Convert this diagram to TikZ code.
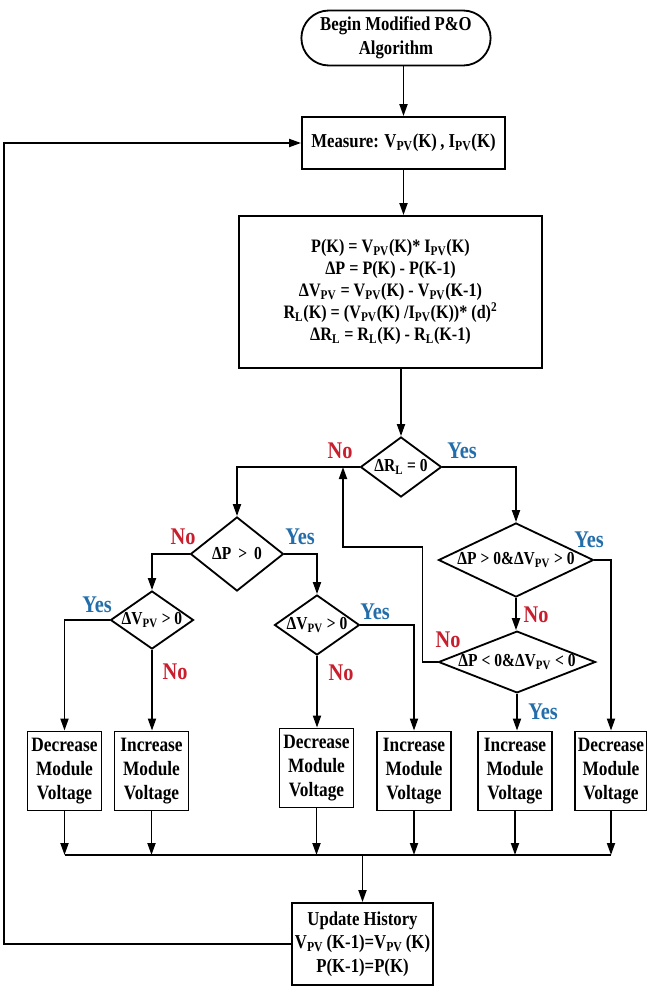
\documentclass[tikz,border=0pt]{standalone}
\usepackage{fontspec}
\setmainfont{Liberation Serif}[FakeStretch=0.85]
\usetikzlibrary{positioning,shapes.geometric,shapes.misc,arrows.meta}
\definecolor{noRed}{RGB}{200,30,45}
\definecolor{yesBlue}{RGB}{35,110,170}
\newcommand{\pvsub}{\textsubscript{PV}}
\newcommand{\lsub}{\textsubscript{L}}

\begin{document}
\begin{tikzpicture}[x=0.025cm,y=-0.025cm,
    line width=1.3pt,
    txt/.style={font=\bfseries\fontsize{14}{17}\selectfont,align=center},
    procbox/.style={txt,draw,inner sep=2pt},
    decision/.style={draw,shape=diamond,inner sep=0pt,
        font=\bfseries\fontsize{13}{15}\selectfont},
    actbox/.style={procbox,minimum width=1.85cm,minimum height=1.975cm,
        font=\bfseries\fontsize{14.5}{16.8}\selectfont},
    yeslbl/.style={font=\bfseries\fontsize{17}{19}\selectfont,text=yesBlue,inner sep=0pt},
    nolbl/.style={font=\bfseries\fontsize{17}{19}\selectfont,text=noRed,inner sep=0pt},
    arr/.style={-{Triangle[length=3mm,width=2mm]}}]
\useasboundingbox (0,0) rectangle (646,986);

% start, measure and compute
\node[txt,draw,shape=rounded rectangle,minimum width=4.8cm,minimum height=1.375cm,
    inner sep=1pt] (begin) at (396,38) {Begin Modified P\&O\\Algorithm};
\node[procbox,minimum width=5.075cm,minimum height=1.3cm] (measure) at (403.5,143)
    {Measure: V\pvsub(K)\,, I\pvsub(K)};
\node[procbox,minimum width=7.575cm,minimum height=3.8cm,
    font=\bfseries\fontsize{13.5}{15.6}\selectfont] (formula) at (390.5,292)
    {P(K) = V\pvsub(K)* I\pvsub(K)\\
     ΔP = P(K) - P(K-1)\\
     ΔV\pvsub{} = V\pvsub(K) - V\pvsub(K-1)\\
     R\lsub(K) = (V\pvsub(K) /I\pvsub(K))* (d)\textsuperscript{2}\\
     ΔR\lsub{} = R\lsub(K) - R\lsub(K-1)};

% decisions
\node[decision,aspect=1.35,minimum width=2.025cm,minimum height=1.5cm] (dRL) at (401,467) {ΔR\lsub{} = 0};
\node[decision,aspect=1.25,minimum width=2.325cm,minimum height=1.85cm] (dP) at (237,554) {ΔP \,>\, 0};
\node[decision,aspect=1.45,minimum width=2.075cm,minimum height=1.45cm] (dVL) at (152,620) {ΔV\pvsub{} > 0};
\node[decision,aspect=1.45,minimum width=2.125cm,minimum height=1.5cm] (dVM) at (317,625) {ΔV\pvsub{} > 0};
\node[decision,aspect=2.1,minimum width=3.875cm,minimum height=1.85cm] (dPV) at (516,560) {ΔP > 0\&ΔV\pvsub{} > 0};
\node[decision,aspect=2.5,minimum width=3.925cm,minimum height=1.525cm] (dNV) at (517,662) {ΔP < 0\&ΔV\pvsub{} < 0};

% actions
\node[actbox] (decA) at (64.5,771) {Decrease\\Module\\Voltage};
\node[actbox] (incA) at (151.5,771) {Increase\\Module\\Voltage};
\node[actbox] (decB) at (316.5,768) {Decrease\\Module\\Voltage};
\node[actbox] (incB) at (414,771) {Increase\\Module\\Voltage};
\node[actbox] (incC) at (515,771) {Increase\\Module\\Voltage};
\node[actbox,minimum width=1.8cm] (decC) at (611,771) {Decrease\\Module\\Voltage};
\node[procbox,minimum width=3.275cm,minimum height=2.05cm,
    font=\bfseries\fontsize{14}{16.8}\selectfont] (update) at (362.5,944)
    {Update History\\V\pvsub{}\,(K-1)=V\pvsub{}\,(K)\\P(K-1)=P(K)};

% yes / no labels
\node[nolbl] (no1) at (340,451) {No};
\node[yeslbl] (yes1) at (462,451) {Yes};
\node[nolbl] (no2) at (183,537) {No};
\node[yeslbl] (yes2) at (300,537) {Yes};
\node[yeslbl] (yes3) at (97,605) {Yes};
\node[nolbl] (no3) at (175,672) {No};
\node[yeslbl] (yes4) at (375,612) {Yes};
\node[nolbl] (no4) at (341,673) {No};
\node[yeslbl] (yes5) at (589,540) {Yes};
\node[nolbl] (no5) at (536,615) {No};
\node[nolbl] (no6) at (448,640) {No};
\node[yeslbl] (yes6) at (543,712) {Yes};

% connectors
\draw[arr] (begin.south -| measure.north) -- (measure.north);
\draw[arr] (measure.south) -- (measure.south |- formula.north);
\draw[arr] (dRL.north |- formula.south) -- (dRL.north);
\draw[arr] (dRL.west) -| (dP.north);
\draw[arr] (dRL.east) -| (dPV.north);
\draw[arr] (dP.west) -| (dVL.north);
\draw[arr] (dP.east) -| (dVM.north);
\draw[arr] (dVL.west) -| (decA.north);
\draw[arr] (dVL.south) -- (dVL.south |- incA.north);
\draw[arr] (dVM.south) -- (dVM.south |- decB.north);
\draw[arr] (dVM.east) -| (incB.north);
\draw[arr] (dPV.south) -- (dPV.south |- dNV.north);
\draw[arr] (dPV.east) -| (decC.north);
\draw[arr] (dNV.south) -- (dNV.south |- incC.north);
\coordinate (loopUp) at (343,547);
\draw[arr] (dNV.west) -- ++(-15,0) |- (loopUp) -- (loopUp |- dRL.west);

% collect and feed back
\coordinate (bus) at (0,855);
\foreach \bx in {decA,incA,decB,incB,incC,decC}
    \draw[arr] (\bx.south) -- (\bx.south |- bus);
\draw (decA.south |- bus) -- (decC.south |- bus);
\draw[arr] (update.north |- bus) -- (update.north);
\draw[arr] (update.west) -- ++(-287,0) |- (measure.west);
\end{tikzpicture}
\end{document}
